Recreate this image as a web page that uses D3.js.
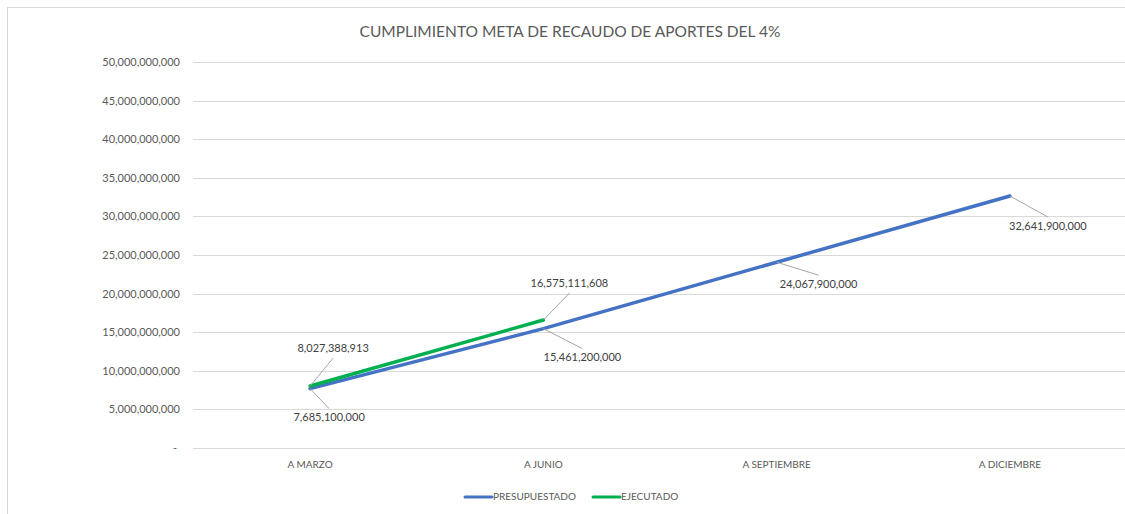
<!DOCTYPE html>
<html><head><meta charset="utf-8">
<script src="https://cdn.jsdelivr.net/npm/d3@7"></script>
<style>
html,body{margin:0;padding:0;background:#fff;}
text{font-family:Lato,"Open Sans",sans-serif;}
</style></head>
<body>
<svg id="chart" width="1125" height="514"></svg>
<script>
const categories = ["A MARZO", "A JUNIO", "A SEPTIEMBRE", "A DICIEMBRE"];
const presupuestado = [7685100000, 15461200000, 24067900000, 32641900000];
const ejecutado = [8027388913, 16575111608];
const yTicks = [0, 5e9, 10e9, 15e9, 20e9, 25e9, 30e9, 35e9, 40e9, 45e9, 50e9];
const seriesNames = ["PRESUPUESTADO", "EJECUTADO"];
const title = "CUMPLIMIENTO META DE RECAUDO DE APORTES DEL 4%";

// label offsets (layout only)
const presOffsets = [[19, 30], [39, 30], [42, 23], [38, 31]];
const ejecOffsets = [[23, -37], [26, -36]];

const colors = ["#4472C4", "#00B050"];
const svg = d3.select("#chart");

// outer border
svg.append("rect").attr("x", 7.5).attr("y", 7.5).attr("width", 1130).attr("height", 520)
  .attr("fill", "#fff").attr("stroke", "#d9d9d9").attr("stroke-width", 1);

const x = d3.scaleBand().domain(categories).range([193.5, 1126.5]);
const y = d3.scaleLinear().domain([0, 50e9]).range([448, 62]);

// grid
svg.append("g").selectAll("line").data(yTicks).join("line")
  .attr("x1", 193).attr("x2", 1127)
  .attr("y1", d => Math.round(y(d)) + 0.5).attr("y2", d => Math.round(y(d)) + 0.5)
  .attr("stroke", "#d9d9d9").attr("stroke-width", 1);

const fmt = d3.format(",");
const yAxis = d3.axisLeft(y).tickValues(yTicks).tickSize(0).tickPadding(0)
  .tickFormat(d => d === 0 ? "-" : fmt(d));
const gy = svg.append("g").attr("transform", "translate(180,0)").call(yAxis);
gy.select(".domain").remove();
gy.selectAll("text").attr("fill", "#595959").style("font-size", "11px").attr("font-family", "Lato");
gy.selectAll(".tick").filter(d => d === 0).select("text").attr("dx", -3);

const xAxis = d3.axisBottom(x).tickSize(0).tickPadding(0);
const gx = svg.append("g").attr("transform", "translate(0,461)").call(xAxis);
gx.select(".domain").remove();
gx.selectAll("text").attr("fill", "#595959").style("font-size", "10px").attr("font-family", "Lato");

const cx = d => x(d) + x.bandwidth() / 2;
const line = d3.line().x((d, i) => cx(categories[i])).y(d => y(d));

svg.append("path").datum(presupuestado).attr("d", line).attr("fill", "none")
  .attr("stroke", colors[0]).attr("stroke-width", 3.5).attr("stroke-linecap", "round");
svg.append("path").datum(ejecutado).attr("d", line).attr("fill", "none")
  .attr("stroke", colors[1]).attr("stroke-width", 3.5).attr("stroke-linecap", "round");

function labels(data, offs) {
  const g = svg.append("g");
  data.forEach((v, i) => {
    const px = cx(categories[i]), py = y(v);
    const [dx, dy] = offs[i];
    const ly = dy > 0 ? py + dy - 10 : py + dy + 9;
    g.append("line").attr("x1", px).attr("y1", py).attr("x2", px + dx).attr("y2", ly)
      .attr("stroke", "#a6a6a6").attr("stroke-width", 1);
    g.append("text").attr("x", px + dx).attr("y", py + dy).attr("text-anchor", "middle")
      .attr("dominant-baseline", "middle").attr("fill", "#404040").style("font-size", "11px")
      .text(fmt(v));
  });
}
labels(presupuestado, presOffsets);
labels(ejecutado, ejecOffsets);

svg.append("text").attr("x", 570).attr("y", 33).attr("text-anchor", "middle")
  .attr("dominant-baseline", "middle").attr("fill", "#595959").style("font-size", "15.5px")
  .attr("font-family", "Lato").text(title);

// legend
const legend = svg.append("g");
const lx = [465, 593];
seriesNames.forEach((n, i) => {
  legend.append("line").attr("x1", lx[i]).attr("x2", lx[i] + 27).attr("y1", 497).attr("y2", 497)
    .attr("stroke", colors[i]).attr("stroke-width", 3).attr("stroke-linecap", "round");
  legend.append("text").attr("x", lx[i] + 28).attr("y", 497).attr("dominant-baseline", "middle")
    .attr("fill", "#595959").style("font-size", "10px").text(n);
});
</script>
</body></html>
